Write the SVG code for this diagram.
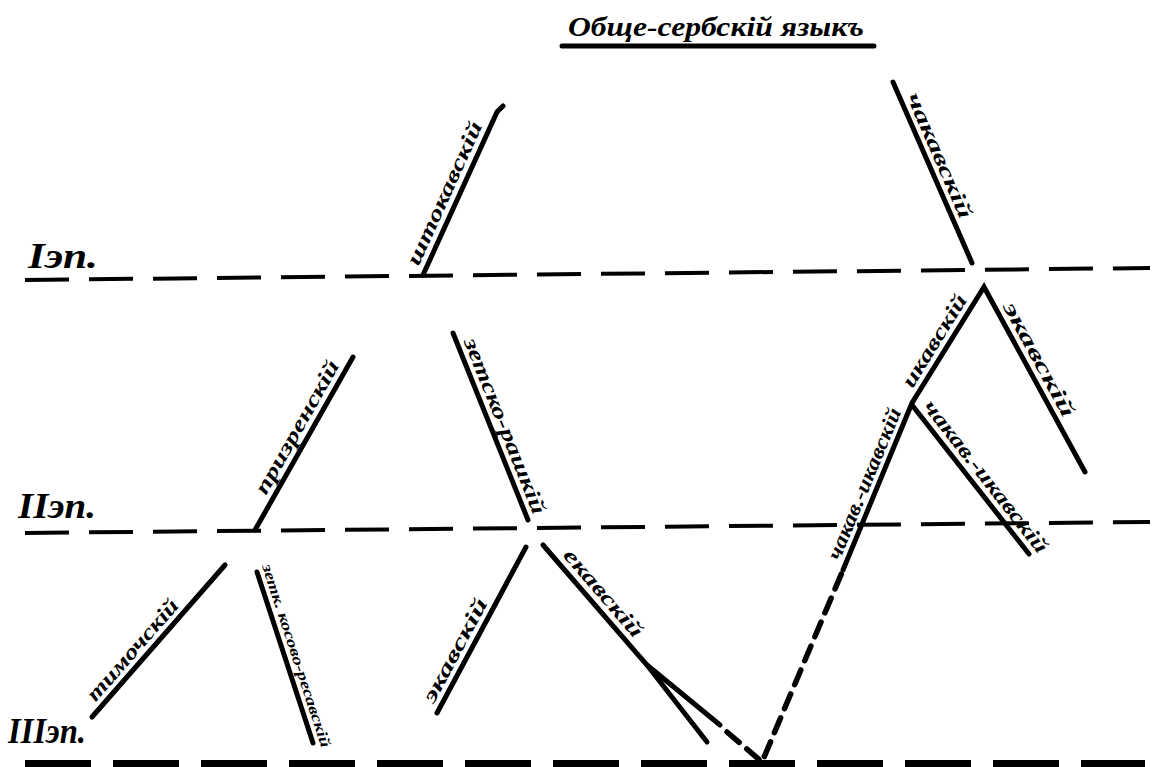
<svg xmlns="http://www.w3.org/2000/svg" width="1158" height="767" viewBox="0 0 1158 767">
<style>
.bg{fill:#fff}
.ln{stroke:#000;stroke-width:5;stroke-linecap:round;fill:none}
.dl{stroke:#000;stroke-width:4;fill:none;stroke-dasharray:44 20}
.db{stroke:#000;stroke-width:18;fill:none;stroke-dasharray:66 22}
.dv{stroke:#000;stroke-width:5.5;fill:none;stroke-dasharray:16 10;stroke-linecap:round}
.lb{font-family:"Liberation Serif","DejaVu Serif",serif;font-style:italic;font-size:21px;font-weight:bold;fill:#000;text-anchor:middle}
.sm{font-size:15px}
.st{font-family:"Liberation Serif","DejaVu Serif",serif;font-style:italic;font-weight:bold;font-size:36px;fill:#000}
.tt{font-family:"Liberation Serif","DejaVu Serif",serif;font-style:italic;font-weight:bold;font-size:28px;fill:#000}
</style>
<rect class="bg" x="0" y="0" width="1158" height="767"/>

<g id="title">
<text class="tt" x="568" y="36" textLength="296" lengthAdjust="spacingAndGlyphs">Обще-сербскій языкъ</text>
<line class="ln" x1="562" y1="46" x2="874" y2="46"/>
</g>

<g id="stages">
<g id="stage-1">
<text class="st" x="28" y="268" textLength="70" lengthAdjust="spacingAndGlyphs">Iэп.</text>
<line class="dl" x1="25" y1="280" x2="1150" y2="268"/>
</g>
<g id="stage-2">
<text class="st" x="18" y="518" textLength="78" lengthAdjust="spacingAndGlyphs">IIэп.</text>
<line class="dl" x1="25" y1="533" x2="1150" y2="522"/>
</g>
<g id="stage-3">
<text class="st" x="8" y="743" textLength="78" lengthAdjust="spacingAndGlyphs">IIIэп.</text>
<line class="db" x1="25" y1="769" x2="1145" y2="769"/>
</g>
</g>

<g id="connectors">
<polyline class="ln" points="423,275 497,112 503,106"/>
<line class="ln" x1="893" y1="82" x2="972" y2="263"/>
<line class="ln" x1="255" y1="530" x2="353" y2="357"/>
<line class="ln" x1="453" y1="333" x2="528" y2="520"/>
<polyline class="ln" points="843,570 912,403 984,287 1085,472"/>
<line class="ln" x1="912" y1="405" x2="1029" y2="554"/>
<line class="ln" x1="92" y1="717" x2="225" y2="565"/>
<line class="ln" x1="257" y1="572" x2="313" y2="743"/>
<line class="ln" x1="437" y1="713" x2="526" y2="547"/>
<polyline class="ln" points="543,545 647,665 707,742"/>
<line class="ln" x1="647" y1="665" x2="720" y2="725"/>
<polyline class="dv" points="727,732 762,762 843,570"/>
</g>

<g id="shtokavski"><text class="lb" transform="translate(457,199) rotate(-65.6)" y="-7" textLength="155" lengthAdjust="spacingAndGlyphs">штокавскій</text></g>
<g id="chakavski"><text class="lb" transform="translate(927,161) rotate(66.4)" y="-7" textLength="135" lengthAdjust="spacingAndGlyphs">чакавскій</text></g>
<g id="prizrenski"><text class="lb" transform="translate(309,434) rotate(-60.5)" y="-7" textLength="150" lengthAdjust="spacingAndGlyphs">призренскій</text></g>
<g id="zetsko-rashki"><text class="lb" transform="translate(492,431) rotate(68.1)" y="-7" textLength="188" lengthAdjust="spacingAndGlyphs">зетско-рашкій</text></g>
<g id="ikavski"><text class="lb" transform="translate(946,348) rotate(-58.2)" y="-7" textLength="105" lengthAdjust="spacingAndGlyphs">икавскій</text></g>
<g id="ekavski-top"><text class="lb" transform="translate(1027,366) rotate(61.4)" y="-7" textLength="128" lengthAdjust="spacingAndGlyphs">экавскій</text></g>
<g id="chakav-ikavski-left"><text class="lb" transform="translate(877,489) rotate(-67.5)" y="-7" textLength="162" lengthAdjust="spacingAndGlyphs">чакав.-икавскій</text></g>
<g id="chakav-ikavski-right"><text class="lb" transform="translate(975,485) rotate(51.9)" y="-7" textLength="188" lengthAdjust="spacingAndGlyphs">чакав.-икавскій</text></g>
<g id="timochski"><text class="lb" transform="translate(143,659) rotate(-48.8)" y="-7" textLength="128" lengthAdjust="spacingAndGlyphs">тимочскій</text></g>
<g id="kosovo-resavski"><text class="lb sm" transform="translate(286,659) rotate(71.9)" y="-6" textLength="192" lengthAdjust="spacingAndGlyphs">зетк. косово-ресавскій</text></g>
<g id="ekavski-low"><text class="lb" transform="translate(467,657) rotate(-61.8)" y="-7" textLength="115" lengthAdjust="spacingAndGlyphs">экавскій</text></g>
<g id="iekavski-low"><text class="lb" transform="translate(593,602) rotate(49.1)" y="-7" textLength="110" lengthAdjust="spacingAndGlyphs">екавскій</text></g>
</svg>
